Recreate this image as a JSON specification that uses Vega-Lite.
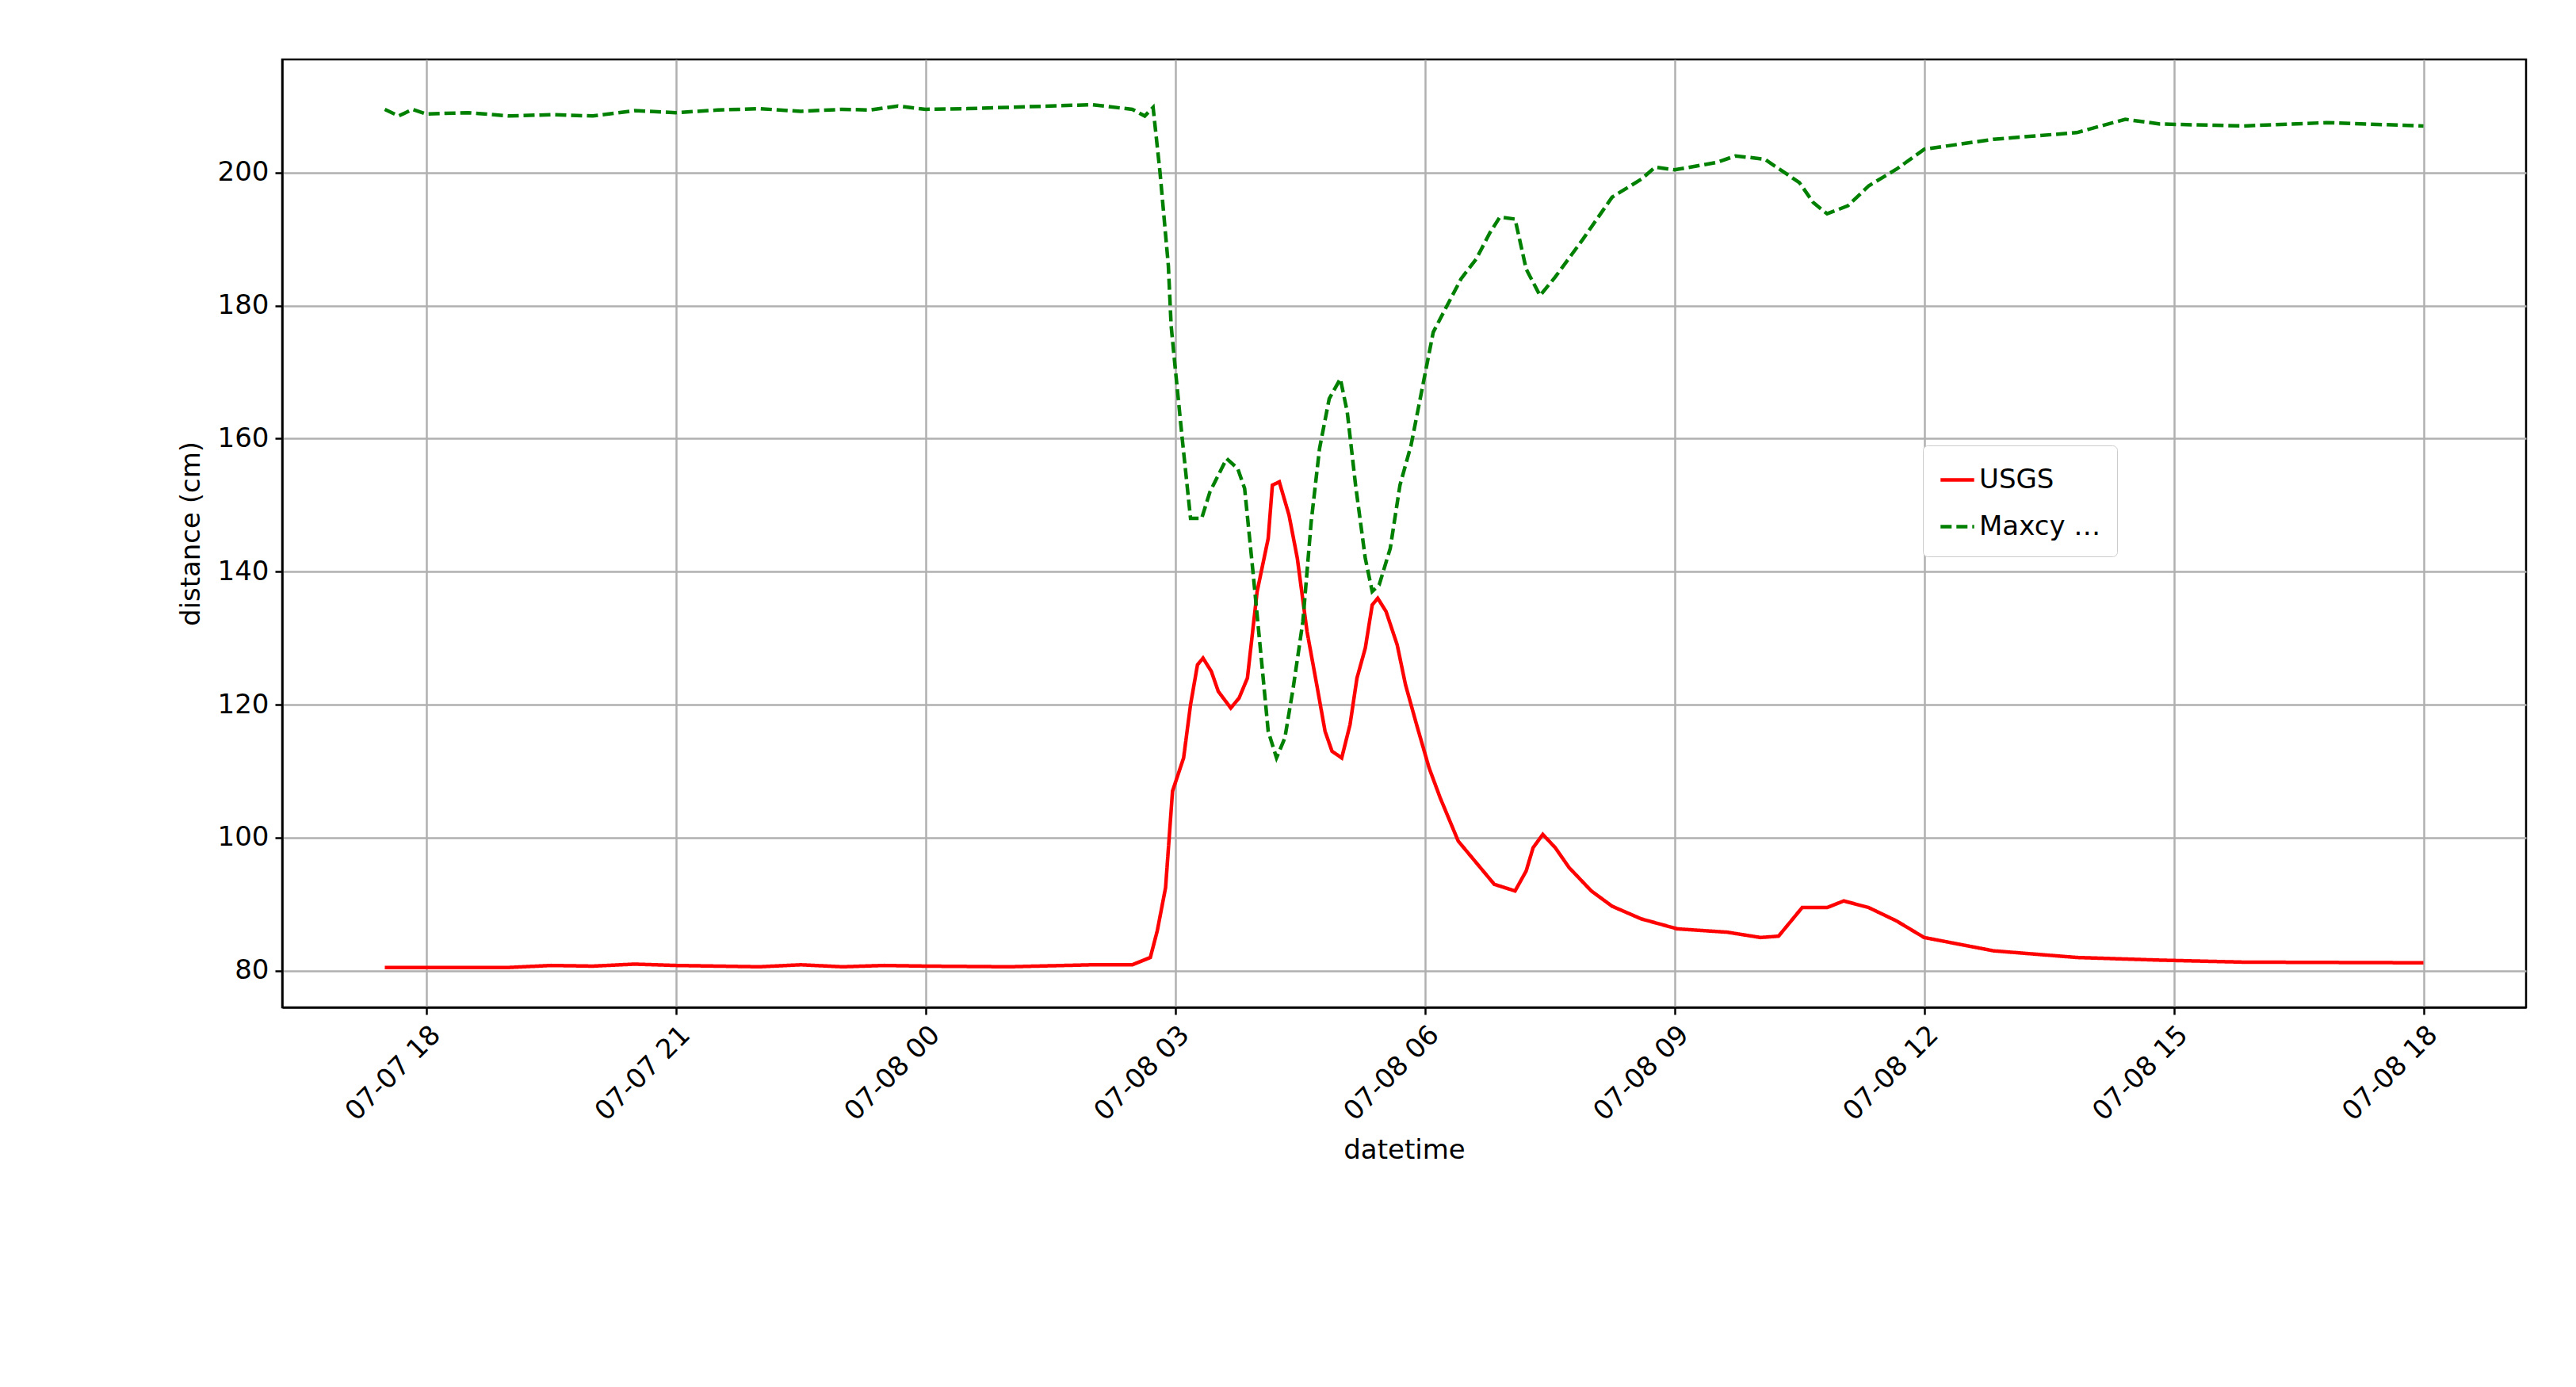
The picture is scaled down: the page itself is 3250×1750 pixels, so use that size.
{
  "$schema": "https://vega.github.io/schema/vega-lite/v6.json",
  "width": 2831,
  "height": 1196,
  "autosize": {"type": "none"},
  "padding": {"left": 356, "top": 75, "right": 63, "bottom": 479},
  "background": "white",
  "config": {
    "view": {"stroke": "black", "strokeWidth": 2.5},
    "font": "DejaVu Sans",
    "axis": {
      "labelFont": "DejaVu Sans", "titleFont": "DejaVu Sans",
      "labelFontSize": 34, "titleFontSize": 34, "titleFontWeight": "normal",
      "labelColor": "black", "titleColor": "black",
      "grid": true, "gridColor": "#b0b0b0", "gridWidth": 2.5,
      "domainColor": "black", "domainWidth": 2.5,
      "tickColor": "black", "tickWidth": 2.5, "tickSize": 9, "labelPadding": 8
    }
  },
  "data": {
    "values": [
      {"t": "2020-07-07T17:30", "s": "USGS", "v": 80.5},
      {"t": "2020-07-07T19:00", "s": "USGS", "v": 80.5},
      {"t": "2020-07-07T19:30", "s": "USGS", "v": 80.8},
      {"t": "2020-07-07T20:00", "s": "USGS", "v": 80.7},
      {"t": "2020-07-07T20:30", "s": "USGS", "v": 81},
      {"t": "2020-07-07T21:00", "s": "USGS", "v": 80.8},
      {"t": "2020-07-07T22:00", "s": "USGS", "v": 80.6},
      {"t": "2020-07-07T22:30", "s": "USGS", "v": 80.9},
      {"t": "2020-07-07T23:00", "s": "USGS", "v": 80.6},
      {"t": "2020-07-07T23:30", "s": "USGS", "v": 80.8},
      {"t": "2020-07-08T00:00", "s": "USGS", "v": 80.7},
      {"t": "2020-07-08T01:00", "s": "USGS", "v": 80.6},
      {"t": "2020-07-08T02:00", "s": "USGS", "v": 80.9},
      {"t": "2020-07-08T02:29", "s": "USGS", "v": 80.9},
      {"t": "2020-07-08T02:42", "s": "USGS", "v": 82},
      {"t": "2020-07-08T02:47", "s": "USGS", "v": 86},
      {"t": "2020-07-08T02:53", "s": "USGS", "v": 92.5},
      {"t": "2020-07-08T02:58", "s": "USGS", "v": 107},
      {"t": "2020-07-08T03:06", "s": "USGS", "v": 112},
      {"t": "2020-07-08T03:11", "s": "USGS", "v": 120},
      {"t": "2020-07-08T03:16", "s": "USGS", "v": 126},
      {"t": "2020-07-08T03:20", "s": "USGS", "v": 127},
      {"t": "2020-07-08T03:26", "s": "USGS", "v": 125},
      {"t": "2020-07-08T03:31", "s": "USGS", "v": 122},
      {"t": "2020-07-08T03:40", "s": "USGS", "v": 119.5},
      {"t": "2020-07-08T03:46", "s": "USGS", "v": 121},
      {"t": "2020-07-08T03:52", "s": "USGS", "v": 124},
      {"t": "2020-07-08T03:59", "s": "USGS", "v": 137},
      {"t": "2020-07-08T04:07", "s": "USGS", "v": 145},
      {"t": "2020-07-08T04:10", "s": "USGS", "v": 153},
      {"t": "2020-07-08T04:15", "s": "USGS", "v": 153.5},
      {"t": "2020-07-08T04:22", "s": "USGS", "v": 148.5},
      {"t": "2020-07-08T04:28", "s": "USGS", "v": 142},
      {"t": "2020-07-08T04:35", "s": "USGS", "v": 131},
      {"t": "2020-07-08T04:42", "s": "USGS", "v": 123},
      {"t": "2020-07-08T04:48", "s": "USGS", "v": 116},
      {"t": "2020-07-08T04:53", "s": "USGS", "v": 113},
      {"t": "2020-07-08T05:00", "s": "USGS", "v": 112},
      {"t": "2020-07-08T05:06", "s": "USGS", "v": 117},
      {"t": "2020-07-08T05:11", "s": "USGS", "v": 124},
      {"t": "2020-07-08T05:17", "s": "USGS", "v": 128.5},
      {"t": "2020-07-08T05:22", "s": "USGS", "v": 135},
      {"t": "2020-07-08T05:26", "s": "USGS", "v": 136},
      {"t": "2020-07-08T05:32", "s": "USGS", "v": 134},
      {"t": "2020-07-08T05:40", "s": "USGS", "v": 129},
      {"t": "2020-07-08T05:46", "s": "USGS", "v": 123},
      {"t": "2020-07-08T05:54", "s": "USGS", "v": 117},
      {"t": "2020-07-08T06:03", "s": "USGS", "v": 110.5},
      {"t": "2020-07-08T06:11", "s": "USGS", "v": 106},
      {"t": "2020-07-08T06:24", "s": "USGS", "v": 99.5},
      {"t": "2020-07-08T06:50", "s": "USGS", "v": 93},
      {"t": "2020-07-08T07:05", "s": "USGS", "v": 92},
      {"t": "2020-07-08T07:13", "s": "USGS", "v": 95},
      {"t": "2020-07-08T07:18", "s": "USGS", "v": 98.5},
      {"t": "2020-07-08T07:25", "s": "USGS", "v": 100.5},
      {"t": "2020-07-08T07:34", "s": "USGS", "v": 98.5},
      {"t": "2020-07-08T07:44", "s": "USGS", "v": 95.5},
      {"t": "2020-07-08T08:00", "s": "USGS", "v": 92},
      {"t": "2020-07-08T08:15", "s": "USGS", "v": 89.7},
      {"t": "2020-07-08T08:36", "s": "USGS", "v": 87.8},
      {"t": "2020-07-08T09:02", "s": "USGS", "v": 86.3},
      {"t": "2020-07-08T09:38", "s": "USGS", "v": 85.8},
      {"t": "2020-07-08T10:02", "s": "USGS", "v": 85},
      {"t": "2020-07-08T10:15", "s": "USGS", "v": 85.2},
      {"t": "2020-07-08T10:32", "s": "USGS", "v": 89.5},
      {"t": "2020-07-08T10:50", "s": "USGS", "v": 89.5},
      {"t": "2020-07-08T11:02", "s": "USGS", "v": 90.5},
      {"t": "2020-07-08T11:20", "s": "USGS", "v": 89.5},
      {"t": "2020-07-08T11:40", "s": "USGS", "v": 87.5},
      {"t": "2020-07-08T12:00", "s": "USGS", "v": 85},
      {"t": "2020-07-08T12:50", "s": "USGS", "v": 83},
      {"t": "2020-07-08T13:50", "s": "USGS", "v": 82},
      {"t": "2020-07-08T14:50", "s": "USGS", "v": 81.6},
      {"t": "2020-07-08T15:50", "s": "USGS", "v": 81.3},
      {"t": "2020-07-08T18:00", "s": "USGS", "v": 81.2},

      {"t": "2020-07-07T17:30", "s": "Maxcy bridge", "v": 209.5},
      {"t": "2020-07-07T17:40", "s": "Maxcy bridge", "v": 208.5},
      {"t": "2020-07-07T17:50", "s": "Maxcy bridge", "v": 209.5},
      {"t": "2020-07-07T18:00", "s": "Maxcy bridge", "v": 208.8},
      {"t": "2020-07-07T18:30", "s": "Maxcy bridge", "v": 209},
      {"t": "2020-07-07T19:00", "s": "Maxcy bridge", "v": 208.5},
      {"t": "2020-07-07T19:30", "s": "Maxcy bridge", "v": 208.7},
      {"t": "2020-07-07T20:00", "s": "Maxcy bridge", "v": 208.5},
      {"t": "2020-07-07T20:30", "s": "Maxcy bridge", "v": 209.3},
      {"t": "2020-07-07T21:00", "s": "Maxcy bridge", "v": 209},
      {"t": "2020-07-07T21:30", "s": "Maxcy bridge", "v": 209.4},
      {"t": "2020-07-07T22:00", "s": "Maxcy bridge", "v": 209.6},
      {"t": "2020-07-07T22:30", "s": "Maxcy bridge", "v": 209.2},
      {"t": "2020-07-07T23:00", "s": "Maxcy bridge", "v": 209.5},
      {"t": "2020-07-07T23:20", "s": "Maxcy bridge", "v": 209.4},
      {"t": "2020-07-07T23:40", "s": "Maxcy bridge", "v": 210},
      {"t": "2020-07-08T00:00", "s": "Maxcy bridge", "v": 209.5},
      {"t": "2020-07-08T00:30", "s": "Maxcy bridge", "v": 209.6},
      {"t": "2020-07-08T01:00", "s": "Maxcy bridge", "v": 209.8},
      {"t": "2020-07-08T01:30", "s": "Maxcy bridge", "v": 210},
      {"t": "2020-07-08T02:00", "s": "Maxcy bridge", "v": 210.2},
      {"t": "2020-07-08T02:29", "s": "Maxcy bridge", "v": 209.5},
      {"t": "2020-07-08T02:38", "s": "Maxcy bridge", "v": 208.5},
      {"t": "2020-07-08T02:44", "s": "Maxcy bridge", "v": 209.8},
      {"t": "2020-07-08T02:49", "s": "Maxcy bridge", "v": 200},
      {"t": "2020-07-08T02:55", "s": "Maxcy bridge", "v": 186},
      {"t": "2020-07-08T02:57", "s": "Maxcy bridge", "v": 177},
      {"t": "2020-07-08T03:00", "s": "Maxcy bridge", "v": 170.5},
      {"t": "2020-07-08T03:05", "s": "Maxcy bridge", "v": 160},
      {"t": "2020-07-08T03:11", "s": "Maxcy bridge", "v": 148},
      {"t": "2020-07-08T03:19", "s": "Maxcy bridge", "v": 148},
      {"t": "2020-07-08T03:25", "s": "Maxcy bridge", "v": 152},
      {"t": "2020-07-08T03:37", "s": "Maxcy bridge", "v": 157},
      {"t": "2020-07-08T03:45", "s": "Maxcy bridge", "v": 155.5},
      {"t": "2020-07-08T03:50", "s": "Maxcy bridge", "v": 152.5},
      {"t": "2020-07-08T03:56", "s": "Maxcy bridge", "v": 140},
      {"t": "2020-07-08T04:02", "s": "Maxcy bridge", "v": 127},
      {"t": "2020-07-08T04:07", "s": "Maxcy bridge", "v": 116},
      {"t": "2020-07-08T04:13", "s": "Maxcy bridge", "v": 112},
      {"t": "2020-07-08T04:19", "s": "Maxcy bridge", "v": 115},
      {"t": "2020-07-08T04:25", "s": "Maxcy bridge", "v": 122.5},
      {"t": "2020-07-08T04:32", "s": "Maxcy bridge", "v": 132.5},
      {"t": "2020-07-08T04:38", "s": "Maxcy bridge", "v": 147.5},
      {"t": "2020-07-08T04:44", "s": "Maxcy bridge", "v": 158.5},
      {"t": "2020-07-08T04:51", "s": "Maxcy bridge", "v": 166},
      {"t": "2020-07-08T04:59", "s": "Maxcy bridge", "v": 169},
      {"t": "2020-07-08T05:04", "s": "Maxcy bridge", "v": 164},
      {"t": "2020-07-08T05:10", "s": "Maxcy bridge", "v": 153},
      {"t": "2020-07-08T05:17", "s": "Maxcy bridge", "v": 142},
      {"t": "2020-07-08T05:22", "s": "Maxcy bridge", "v": 137},
      {"t": "2020-07-08T05:27", "s": "Maxcy bridge", "v": 138},
      {"t": "2020-07-08T05:35", "s": "Maxcy bridge", "v": 143.5},
      {"t": "2020-07-08T05:42", "s": "Maxcy bridge", "v": 153},
      {"t": "2020-07-08T05:50", "s": "Maxcy bridge", "v": 159},
      {"t": "2020-07-08T05:58", "s": "Maxcy bridge", "v": 167.5},
      {"t": "2020-07-08T06:06", "s": "Maxcy bridge", "v": 176},
      {"t": "2020-07-08T06:16", "s": "Maxcy bridge", "v": 180},
      {"t": "2020-07-08T06:26", "s": "Maxcy bridge", "v": 184},
      {"t": "2020-07-08T06:37", "s": "Maxcy bridge", "v": 187},
      {"t": "2020-07-08T06:47", "s": "Maxcy bridge", "v": 191},
      {"t": "2020-07-08T06:54", "s": "Maxcy bridge", "v": 193.3},
      {"t": "2020-07-08T07:05", "s": "Maxcy bridge", "v": 193},
      {"t": "2020-07-08T07:13", "s": "Maxcy bridge", "v": 185.5},
      {"t": "2020-07-08T07:23", "s": "Maxcy bridge", "v": 181.5},
      {"t": "2020-07-08T07:34", "s": "Maxcy bridge", "v": 184.3},
      {"t": "2020-07-08T07:54", "s": "Maxcy bridge", "v": 190},
      {"t": "2020-07-08T08:15", "s": "Maxcy bridge", "v": 196.3},
      {"t": "2020-07-08T08:36", "s": "Maxcy bridge", "v": 199},
      {"t": "2020-07-08T08:46", "s": "Maxcy bridge", "v": 200.8},
      {"t": "2020-07-08T09:00", "s": "Maxcy bridge", "v": 200.4},
      {"t": "2020-07-08T09:30", "s": "Maxcy bridge", "v": 201.5},
      {"t": "2020-07-08T09:44", "s": "Maxcy bridge", "v": 202.5},
      {"t": "2020-07-08T10:05", "s": "Maxcy bridge", "v": 202},
      {"t": "2020-07-08T10:30", "s": "Maxcy bridge", "v": 198.5},
      {"t": "2020-07-08T10:40", "s": "Maxcy bridge", "v": 195.5},
      {"t": "2020-07-08T10:50", "s": "Maxcy bridge", "v": 193.8},
      {"t": "2020-07-08T11:05", "s": "Maxcy bridge", "v": 195},
      {"t": "2020-07-08T11:20", "s": "Maxcy bridge", "v": 198},
      {"t": "2020-07-08T11:40", "s": "Maxcy bridge", "v": 200.5},
      {"t": "2020-07-08T12:00", "s": "Maxcy bridge", "v": 203.5},
      {"t": "2020-07-08T12:50", "s": "Maxcy bridge", "v": 205},
      {"t": "2020-07-08T13:50", "s": "Maxcy bridge", "v": 206},
      {"t": "2020-07-08T14:25", "s": "Maxcy bridge", "v": 208},
      {"t": "2020-07-08T14:50", "s": "Maxcy bridge", "v": 207.3},
      {"t": "2020-07-08T15:50", "s": "Maxcy bridge", "v": 207},
      {"t": "2020-07-08T16:50", "s": "Maxcy bridge", "v": 207.5},
      {"t": "2020-07-08T18:00", "s": "Maxcy bridge", "v": 207}
    ]
  },
  "mark": {"type": "line", "strokeWidth": 4.5},
  "encoding": {
    "x": {
      "field": "t", "type": "temporal", "title": "datetime",
      "scale": {"domain": [
        {"year": 2020, "month": 7, "date": 7, "hours": 16, "minutes": 16},
        {"year": 2020, "month": 7, "date": 8, "hours": 19, "minutes": 14}
      ]},
      "axis": {
        "format": "%m-%d %H",
        "values": [
          {"year": 2020, "month": 7, "date": 7, "hours": 18},
          {"year": 2020, "month": 7, "date": 7, "hours": 21},
          {"year": 2020, "month": 7, "date": 8, "hours": 0},
          {"year": 2020, "month": 7, "date": 8, "hours": 3},
          {"year": 2020, "month": 7, "date": 8, "hours": 6},
          {"year": 2020, "month": 7, "date": 8, "hours": 9},
          {"year": 2020, "month": 7, "date": 8, "hours": 12},
          {"year": 2020, "month": 7, "date": 8, "hours": 15},
          {"year": 2020, "month": 7, "date": 8, "hours": 18}
        ],
        "labelAngle": -45, "labelAlign": "right", "labelBaseline": "top",
        "labelFlush": false, "labelOverlap": false, "titlePadding": 14
      }
    },
    "y": {
      "field": "v", "type": "quantitative", "title": "distance (cm)",
      "scale": {"domain": [74.5, 217], "nice": false, "zero": false},
      "axis": {"values": [80, 100, 120, 140, 160, 180, 200], "titlePadding": 16}
    },
    "color": {
      "field": "s", "type": "nominal", "title": null,
      "scale": {"domain": ["USGS", "Maxcy bridge"], "range": ["#ff0000", "#008000"]},
      "legend": {
        "orient": "none", "legendX": 2070, "legendY": 487,
        "symbolType": "stroke", "symbolSize": 1800, "symbolStrokeWidth": 4.5,
        "labelFontSize": 34, "labelFont": "DejaVu Sans", "labelColor": "black",
        "rowPadding": 18, "padding": 20, "strokeColor": "#cccccc",
        "fillColor": "white", "cornerRadius": 6
      }
    },
    "strokeDash": {
      "field": "s", "type": "nominal",
      "scale": {"domain": ["USGS", "Maxcy bridge"], "range": [[1, 0], [14, 6]]},
      "legend": null
    }
  }
}
